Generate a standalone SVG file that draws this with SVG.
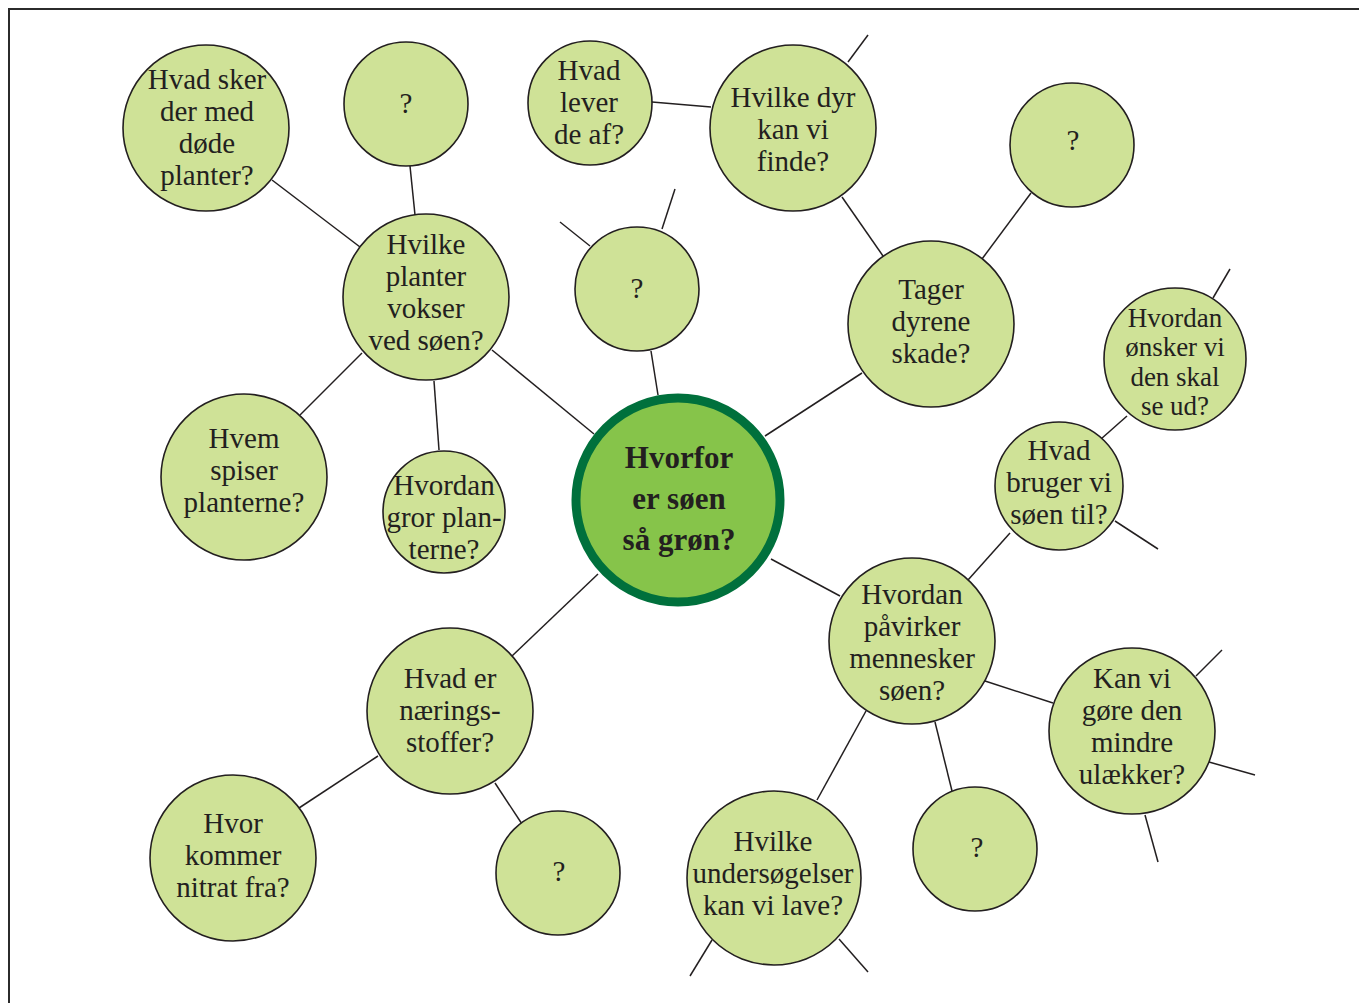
<svg xmlns="http://www.w3.org/2000/svg" width="1359" height="1003" viewBox="0 0 1359 1003">
<style>
.n{fill:#cfe297;stroke:#231f20;stroke-width:1.6}
.t{font-family:"Liberation Serif","DejaVu Serif",serif;font-size:29px;fill:#231f20;text-anchor:middle}
.s{font-size:27px}
.c{fill:#86c44a;stroke:#00703c;stroke-width:9}
.ct{font-family:"Liberation Serif","DejaVu Serif",serif;font-size:31px;font-weight:bold;fill:#231f20;text-anchor:middle}
#edges line{stroke:#231f20;stroke-width:1.5}
</style>
<rect width="1359" height="1003" fill="#fff"/>
<path d="M9 1003 V9 H1359" fill="none" stroke="#2b2b2b" stroke-width="2"/>
<g id="edges">
<line x1="272" y1="180" x2="360" y2="247"/>
<line x1="410" y1="166" x2="415" y2="215"/>
<line x1="492" y1="350" x2="594" y2="434"/>
<line x1="362" y1="353" x2="300" y2="415"/>
<line x1="434" y1="381" x2="439" y2="450"/>
<line x1="651" y1="351" x2="658" y2="395"/>
<line x1="560" y1="222" x2="590" y2="246"/>
<line x1="662" y1="229" x2="675" y2="189"/>
<line x1="652" y1="102" x2="711" y2="107"/>
<line x1="848" y1="62" x2="868" y2="35"/>
<line x1="842" y1="197" x2="883" y2="256"/>
<line x1="1031" y1="193" x2="982" y2="259"/>
<line x1="862" y1="373" x2="765" y2="436"/>
<line x1="1213" y1="298" x2="1230" y2="269"/>
<line x1="1127" y1="416" x2="1101" y2="439"/>
<line x1="1115" y1="521" x2="1158" y2="549"/>
<line x1="1010" y1="533" x2="968" y2="580"/>
<line x1="771" y1="559" x2="840" y2="596"/>
<line x1="598" y1="574" x2="512" y2="656"/>
<line x1="378" y1="756" x2="299" y2="808"/>
<line x1="495" y1="783" x2="522" y2="824"/>
<line x1="985" y1="681" x2="1053" y2="703"/>
<line x1="866" y1="711" x2="817" y2="800"/>
<line x1="935" y1="722" x2="952" y2="791"/>
<line x1="1196" y1="676" x2="1222" y2="650"/>
<line x1="1209" y1="762" x2="1255" y2="775"/>
<line x1="1145" y1="815" x2="1158" y2="862"/>
<line x1="712" y1="940" x2="690" y2="976"/>
<line x1="839" y1="939" x2="868" y2="972"/>
</g>
<g id="n1"><circle class="n" cx="206" cy="128" r="83"/><text class="t" x="207"><tspan x="207" y="89">Hvad sker</tspan><tspan x="207" y="121">der med</tspan><tspan x="207" y="153">døde</tspan><tspan x="207" y="185">planter?</tspan></text></g>
<g id="n2"><circle class="n" cx="406" cy="104" r="62"/><text class="t" x="406" y="113">?</text></g>
<g id="n3"><circle class="n" cx="590" cy="103" r="62"/><text class="t"><tspan x="589" y="80">Hvad</tspan><tspan x="589" y="112">lever</tspan><tspan x="589" y="144">de af?</tspan></text></g>
<g id="n4"><circle class="n" cx="793" cy="128" r="83"/><text class="t"><tspan x="793" y="107">Hvilke dyr</tspan><tspan x="793" y="139">kan vi</tspan><tspan x="793" y="171">finde?</tspan></text></g>
<g id="n5"><circle class="n" cx="1072" cy="145" r="62"/><text class="t" x="1073" y="150">?</text></g>
<g id="n6"><circle class="n" cx="426" cy="297" r="83"/><text class="t"><tspan x="426" y="254">Hvilke</tspan><tspan x="426" y="286">planter</tspan><tspan x="426" y="318">vokser</tspan><tspan x="426" y="350">ved søen?</tspan></text></g>
<g id="n7"><circle class="n" cx="637" cy="289" r="62"/><text class="t" x="637" y="298">?</text></g>
<g id="n8"><circle class="n" cx="931" cy="324" r="83"/><text class="t"><tspan x="931" y="299">Tager</tspan><tspan x="931" y="331">dyrene</tspan><tspan x="931" y="363">skade?</tspan></text></g>
<g id="n9"><circle class="n" cx="1175" cy="359" r="71"/><text class="t s"><tspan x="1175" y="327">Hvordan</tspan><tspan x="1175" y="356">ønsker vi</tspan><tspan x="1175" y="386">den skal</tspan><tspan x="1175" y="415">se ud?</tspan></text></g>
<g id="center"><circle class="c" cx="678" cy="500" r="102"/><text class="ct"><tspan x="679" y="468">Hvorfor</tspan><tspan x="679" y="509">er søen</tspan><tspan x="679" y="550">så grøn?</tspan></text></g>
<g id="n11"><circle class="n" cx="244" cy="477" r="83"/><text class="t"><tspan x="244" y="448">Hvem</tspan><tspan x="244" y="480">spiser</tspan><tspan x="244" y="512">planterne?</tspan></text></g>
<g id="n12"><circle class="n" cx="444" cy="512" r="61"/><text class="t"><tspan x="444" y="495">Hvordan</tspan><tspan x="444" y="527">gror plan-</tspan><tspan x="444" y="559">terne?</tspan></text></g>
<g id="n13"><circle class="n" cx="1059" cy="486" r="64"/><text class="t"><tspan x="1059" y="460">Hvad</tspan><tspan x="1059" y="492">bruger vi</tspan><tspan x="1059" y="524">søen til?</tspan></text></g>
<g id="n14"><circle class="n" cx="450" cy="711" r="83"/><text class="t"><tspan x="450" y="688">Hvad er</tspan><tspan x="450" y="720">nærings-</tspan><tspan x="450" y="752">stoffer?</tspan></text></g>
<g id="n15"><circle class="n" cx="912" cy="641" r="83"/><text class="t"><tspan x="912" y="604">Hvordan</tspan><tspan x="912" y="636">påvirker</tspan><tspan x="912" y="668">mennesker</tspan><tspan x="912" y="700">søen?</tspan></text></g>
<g id="n16"><circle class="n" cx="1132" cy="731" r="83"/><text class="t"><tspan x="1132" y="688">Kan vi</tspan><tspan x="1132" y="720">gøre den</tspan><tspan x="1132" y="752">mindre</tspan><tspan x="1132" y="784">ulækker?</tspan></text></g>
<g id="n17"><circle class="n" cx="233" cy="858" r="83"/><text class="t"><tspan x="233" y="833">Hvor</tspan><tspan x="233" y="865">kommer</tspan><tspan x="233" y="897">nitrat fra?</tspan></text></g>
<g id="n18"><circle class="n" cx="558" cy="873" r="62"/><text class="t" x="559" y="881">?</text></g>
<g id="n19"><circle class="n" cx="975" cy="849" r="62"/><text class="t" x="977" y="857">?</text></g>
<g id="n20"><circle class="n" cx="774" cy="878" r="87"/><text class="t"><tspan x="773" y="851">Hvilke</tspan><tspan x="773" y="883">undersøgelser</tspan><tspan x="773" y="915">kan vi lave?</tspan></text></g>
</svg>
